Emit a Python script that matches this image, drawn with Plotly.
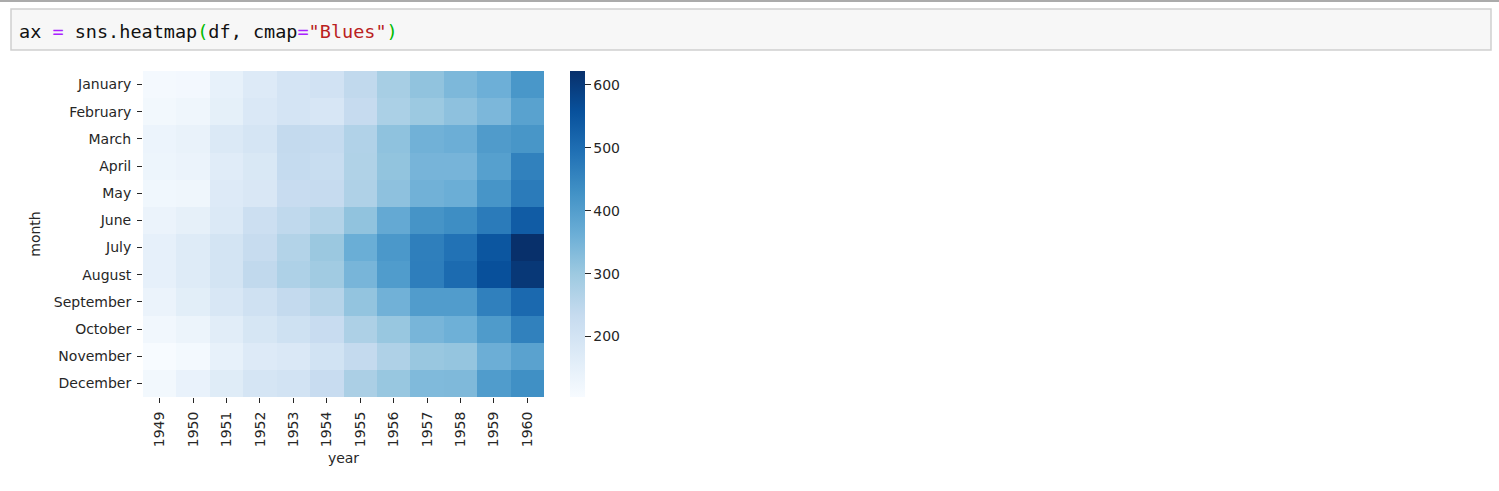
import plotly.graph_objects as go

months = ["January", "February", "March", "April", "May", "June", "July",
          "August", "September", "October", "November", "December"]
years = ["1949", "1950", "1951", "1952", "1953", "1954", "1955", "1956",
         "1957", "1958", "1959", "1960"]

y1949 = [112, 118, 132, 129, 121, 135, 148, 148, 136, 119, 104, 118]
y1950 = [115, 126, 141, 135, 125, 149, 170, 170, 158, 133, 114, 140]
y1951 = [145, 150, 178, 163, 172, 178, 199, 199, 184, 162, 146, 166]
y1952 = [171, 180, 193, 181, 183, 218, 230, 242, 209, 191, 172, 194]
y1953 = [196, 196, 236, 235, 229, 243, 264, 272, 237, 211, 180, 201]
y1954 = [204, 188, 235, 227, 234, 264, 302, 293, 259, 229, 203, 229]
y1955 = [242, 233, 267, 269, 270, 315, 364, 347, 312, 274, 237, 278]
y1956 = [284, 277, 317, 313, 318, 374, 413, 405, 355, 306, 271, 306]
y1957 = [315, 301, 356, 348, 355, 422, 465, 467, 404, 347, 305, 336]
y1958 = [340, 318, 362, 348, 363, 435, 491, 505, 404, 359, 310, 337]
y1959 = [360, 342, 406, 396, 420, 472, 548, 559, 463, 407, 362, 405]
y1960 = [417, 391, 419, 461, 472, 535, 622, 606, 508, 461, 390, 432]

cols = [y1949, y1950, y1951, y1952, y1953, y1954, y1955, y1956, y1957,
        y1958, y1959, y1960]
z = [[cols[j][i] for j in range(len(years))] for i in range(len(months))]

blues = ["#f7fbff", "#deebf7", "#c6dbef", "#9ecae1", "#6baed6",
         "#4292c6", "#2171b5", "#08519c", "#08306b"]
colorscale = [[i / (len(blues) - 1), c] for i, c in enumerate(blues)]

W, H = 1499, 491
TXT = "#262626"
FONT = "DejaVu Sans"

fig = go.Figure()
fig.add_trace(go.Heatmap(
    z=z, x=years, y=months, colorscale=colorscale,
    zmin=104, zmax=622, xgap=0, ygap=0,
    colorbar=dict(
        thickness=15, thicknessmode="pixels",
        len=326, lenmode="pixels",
        x=570 / W, xanchor="left", xpad=0,
        y=1 - 234 / H, yanchor="middle", ypad=0,
        outlinewidth=0,
        tickvals=[200, 300, 400, 500, 600],
        ticks="outside", ticklen=6, tickcolor=TXT, tickwidth=1,
        tickfont=dict(family=FONT, size=14, color=TXT),
    ),
))

fig.update_layout(
    width=W, height=H,
    margin=dict(l=0, r=0, t=0, b=0),
    paper_bgcolor="white", plot_bgcolor="white",
    font=dict(family=FONT, size=14, color=TXT),
    showlegend=False,
    xaxis=dict(
        domain=[143 / W, 544 / W], type="category",
        tickangle=-90, ticks="outside", ticklen=5, tickcolor=TXT,
        ticklabelstandoff=3,
        showgrid=False, zeroline=False, showline=False,
        tickfont=dict(family=FONT, size=14, color=TXT),
        title=dict(text="year", font=dict(family=FONT, size=14, color=TXT), standoff=6),
    ),
    yaxis=dict(
        domain=[1 - 397 / H, 1 - 71 / H], type="category",
        autorange="reversed",
        ticks="outside", ticklen=5, tickcolor=TXT,
        ticklabelstandoff=3,
        showgrid=False, zeroline=False, showline=False,
        tickfont=dict(family=FONT, size=14, color=TXT),
        title=dict(text="month", font=dict(family=FONT, size=14, color=TXT), standoff=9),
    ),
)

# Notebook chrome: top separator line and code cell box
fig.add_shape(type="line", xref="paper", yref="paper",
              x0=0, x1=1, y0=1 - 1 / H, y1=1 - 1 / H,
              line=dict(color="#ababab", width=2))
fig.add_shape(type="rect", xref="paper", yref="paper",
              x0=11 / W, x1=1491 / W, y0=1 - 50 / H, y1=1 - 9 / H,
              fillcolor="#f7f7f7", line=dict(color="#cfcfcf", width=1.5),
              layer="below")
code = ('ax <span style="color:#aa22ff">=</span> sns.heatmap'
        '<span style="color:#00bb00">(</span>df, cmap'
        '<span style="color:#aa22ff">=</span>'
        '<span style="color:#ba2121">"Blues"</span>'
        '<span style="color:#00bb00">)</span>')
fig.add_annotation(text=code, xref="paper", yref="paper",
                   x=17 / W, y=1 - 31 / H, xanchor="left", yanchor="middle",
                   showarrow=False,
                   font=dict(family="DejaVu Sans Mono", size=18.5, color="#111111"))

fig.write_html("out.html",
               config={"displayModeBar": False},
               post_script="document.body.style.margin='0px';"
                           "document.body.style.overflow='hidden';")
